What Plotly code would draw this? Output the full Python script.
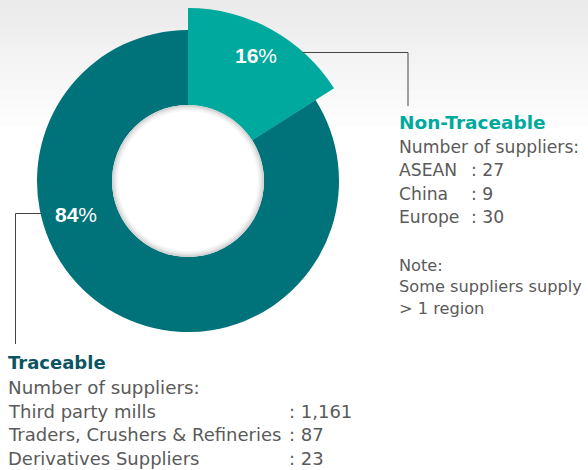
import plotly.graph_objects as go

W, H = 588, 470

# ---- data ----
segments = ["Non-Traceable", "Traceable"]
shares = [16, 84]

nontrace_regions = ["ASEAN", "China", "Europe"]
nontrace_counts = ["27", "9", "30"]
nontrace_note = ["Note:", "Some suppliers supply", "> 1 region"]

trace_types = ["Third party mills", "Traders, Crushers & Refineries", "Derivatives Suppliers"]
trace_counts = ["1,161", "87", "23"]

# ---- style ----
TEAL = "#00a99d"
DARK = "#00727a"
TITLE_DARK = "#0b5563"
GRAY = "#5a5a5a"
BODY_FONT = "DejaVu Sans"

def px(x):
    return x / W

def py(y):
    return 1 - y / H

CX, CY = 188, 181
R_BIG, R_SMALL_SLICE, R_HOLE = 151, 173, 76

fig = go.Figure()

# main ring (84% slice)
fig.add_trace(go.Pie(
    labels=segments, values=shares, sort=False, direction="clockwise", rotation=0,
    hole=R_HOLE / R_BIG,
    marker=dict(colors=[TEAL, DARK], line=dict(width=0)),
    textinfo="none", hoverinfo="label+percent", showlegend=False,
    domain=dict(x=[px(CX - R_BIG), px(CX + R_BIG)], y=[py(CY + R_BIG), py(CY - R_BIG)]),
))
# enlarged 16% slice
fig.add_trace(go.Pie(
    labels=segments, values=shares, sort=False, direction="clockwise", rotation=0,
    hole=R_HOLE / R_SMALL_SLICE,
    marker=dict(colors=[TEAL, "rgba(0,0,0,0)"], line=dict(width=0)),
    textinfo="none", hoverinfo="skip", showlegend=False,
    domain=dict(x=[px(CX - R_SMALL_SLICE), px(CX + R_SMALL_SLICE)],
                y=[py(CY + R_SMALL_SLICE), py(CY - R_SMALL_SLICE)]),
))

shapes = []
# background gradient bands at the top
n_bands = 14
for i in range(n_bands):
    y0 = i * 9
    t = i / n_bands
    g = int(235 + (255 - 235) * t)
    shapes.append(dict(type="rect", xref="paper", yref="paper", layer="below",
                       x0=0, x1=1, y0=py(y0 + 9), y1=py(y0),
                       fillcolor=f"rgb({g},{g},{g})", line=dict(width=0)))

# hole shadow
for r, c in [(R_HOLE, "#d2d2d2"), (R_HOLE - 1.5, "#e2e2e2"), (R_HOLE - 3, "#eeeeee"),
             (R_HOLE - 4.5, "#f7f7f7"), (R_HOLE - 6, "#ffffff")]:
    shapes.append(dict(type="circle", xref="paper", yref="paper", layer="above",
                       x0=px(CX - r), x1=px(CX + r), y0=py(CY + r), y1=py(CY - r),
                       fillcolor=c, line=dict(width=0)))

# leader lines
def path(points):
    return "M " + " L ".join(f"{px(x):.5f},{py(y):.5f}" for x, y in points)

shapes.append(dict(type="path", xref="paper", yref="paper", layer="above",
                   path=path([(303, 52.5), (408, 52.5), (408, 106)]),
                   line=dict(color="#444444", width=1)))
shapes.append(dict(type="path", xref="paper", yref="paper", layer="above",
                   path=path([(42, 213.5), (15.5, 213.5), (15.5, 344)]),
                   line=dict(color="#444444", width=1)))

ann = []

def text(x, y, s, size=18, color=GRAY, family=BODY_FONT, anchor="left"):
    ann.append(dict(x=px(x), y=py(y), xref="paper", yref="paper", text=s,
                    showarrow=False, xanchor=anchor, yanchor="middle",
                    font=dict(size=size, color=color, family=family)))

# percentage labels
text(256, 56, f"<b>{shares[0]}</b>%", size=21, color="white",
     family="Liberation Sans", anchor="center")
text(76, 214, f"<b>{shares[1]}</b>%", size=21, color="white",
     family="Liberation Sans", anchor="center")

# Non-Traceable block
text(397, 122, f"<b>{segments[0]}</b>", size=18.5, color=TEAL)
text(397, 147, "Number of suppliers:", size=17.2)
for i, (reg, cnt) in enumerate(zip(nontrace_regions, nontrace_counts)):
    yy = 170 + i * 23.5
    text(397, yy, reg, size=17.2)
    text(469, yy, f": {cnt}", size=17.2)
for i, line in enumerate(nontrace_note):
    text(397, 265 + i * 21.5, line, size=16.2)

# Traceable block
text(6, 362, f"<b>{segments[1]}</b>", color=TITLE_DARK)
text(6, 387, "Number of suppliers:", size=18.3)
for i, (tp, cnt) in enumerate(zip(trace_types, trace_counts)):
    yy = 411 + i * 23.5
    text(6, yy, tp, size=18)
    text(287, yy, f": {cnt}", size=18)

fig.update_layout(
    width=W, height=H, margin=dict(l=0, r=0, t=0, b=0),
    paper_bgcolor="white", plot_bgcolor="white",
    shapes=shapes, annotations=ann, showlegend=False,
)

fig.write_html("out.html", config={"displayModeBar": False},
               post_script="document.body.style.margin='0';document.body.style.overflow='hidden';")
